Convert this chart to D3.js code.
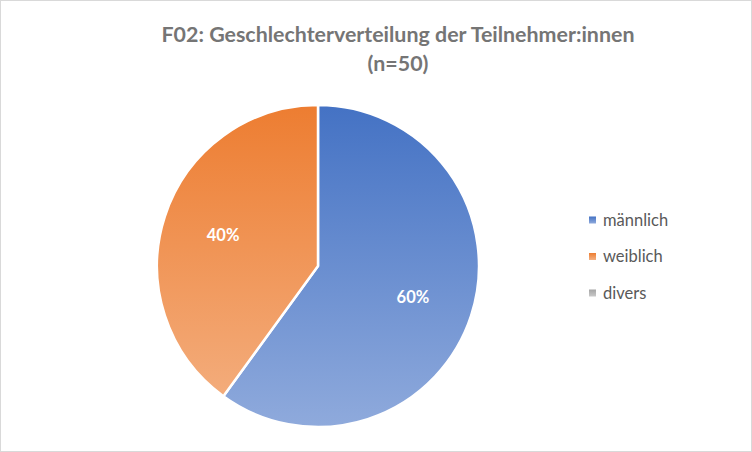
<!DOCTYPE html>
<html><head><meta charset="utf-8">
<script src="https://cdn.jsdelivr.net/npm/d3@7/dist/d3.min.js"></script>
<style>body{margin:0;background:#fff}svg{display:block}</style>
</head><body>
<svg id="c" width="752" height="452"></svg>
<script>
const title = ["F02: Geschlechterverteilung der Teilnehmer:innen", "(n=50)"];
const categories = ["männlich", "weiblich", "divers"];
const values = [60, 40, 0];
const colorsTop = ["#4472C4", "#ED7D31", "#A5A5A5"];
const colorsBottom = ["#8FAADC", "#F4B183", "#C9C9C9"];

const svg = d3.select("#c");
const W = 752, H = 452;
svg.append("rect").attr("x", 0.5).attr("y", 0.5).attr("width", W - 1).attr("height", H - 1)
  .attr("fill", "#fff").attr("stroke", "#d9d9d9");

const cx = 318, cy = 266, R = 161;
const defs = svg.append("defs");
categories.forEach((c, i) => {
  const g = defs.append("linearGradient").attr("id", "g" + i)
    .attr("gradientUnits", "userSpaceOnUse")
    .attr("x1", 0).attr("y1", -R).attr("x2", 0).attr("y2", R);
  g.append("stop").attr("offset", 0).attr("stop-color", colorsTop[i]);
  g.append("stop").attr("offset", 1).attr("stop-color", colorsBottom[i]);
  const lg = defs.append("linearGradient").attr("id", "lg" + i)
    .attr("x1", 0).attr("y1", 0).attr("x2", 0).attr("y2", 1);
  lg.append("stop").attr("offset", 0).attr("stop-color", colorsTop[i]);
  lg.append("stop").attr("offset", 1).attr("stop-color", colorsBottom[i]);
});

const font = "Lato, 'Open Sans', sans-serif";
svg.selectAll("text.title").data(title).enter().append("text")
  .attr("x", 398).attr("y", (d, i) => 42 + i * 29)
  .attr("text-anchor", "middle").attr("font-family", font).attr("font-weight", "bold")
  .attr("font-size", 21.4).attr("fill", "#757575").text(d => d);

const pie = d3.pie().sort(null).value(d => d.v);
const data = pie(categories.map((c, i) => ({ c, v: values[i], i })));
const arc = d3.arc().innerRadius(0).outerRadius(R);
const labelArc = d3.arc().innerRadius(R * 0.62).outerRadius(R * 0.62);
const total = d3.sum(values);

const g = svg.append("g").attr("transform", `translate(${cx},${cy})`);
g.selectAll("path").data(data.filter(d => d.data.v > 0)).enter().append("path")
  .attr("d", arc).attr("fill", d => `url(#g${d.data.i})`)
  .attr("stroke", "#fff").attr("stroke-width", 2.5).attr("stroke-linejoin", "round");

g.selectAll("text").data(data.filter(d => d.data.v > 0)).enter().append("text")
  .attr("transform", d => `translate(${labelArc.centroid(d)})`)
  .attr("text-anchor", "middle").attr("dy", "0.35em")
  .attr("font-family", font).attr("font-weight", "bold").attr("font-size", 16.5)
  .attr("fill", "#fff").text(d => Math.round(d.data.v / total * 100) + "%");

const leg = svg.append("g");
const ly = d3.scalePoint().domain(categories).range([220, 293]);
categories.forEach((c, i) => {
  leg.append("rect").attr("x", 589).attr("y", ly(c) - 3.5).attr("width", 7).attr("height", 7)
    .attr("fill", `url(#lg${i})`);
  leg.append("text").attr("x", 603).attr("y", ly(c)).attr("dy", "0.35em")
    .attr("font-family", font).attr("font-size", 16.5).attr("fill", "#595959").text(c);
});
</script>
</body></html>
